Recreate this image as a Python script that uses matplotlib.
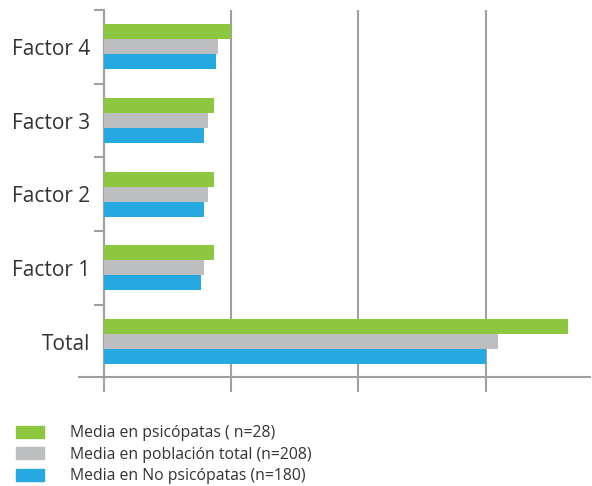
import matplotlib.pyplot as plt
from matplotlib.patches import Patch

# Data
categories = ["Total", "Factor 1", "Factor 2", "Factor 3", "Factor 4"]
psicopatas = [36.45, 8.64, 8.64, 8.64, 10.0]
poblacion_total = [30.95, 7.86, 8.17, 8.17, 9.0]
no_psicopatas = [30.0, 7.62, 7.86, 7.86, 8.8]
labels = ["Media en psicópatas ( n=28)",
          "Media en población total (n=208)",
          "Media en No psicópatas (n=180)"]

green = "#8DC63F"
gray = "#BCBEC0"
blue = "#25A9E0"
axis_gray = "#A0A0A0"

plt.rcParams['font.family'] = ['Open Sans', 'DejaVu Sans']

fig = plt.figure(figsize=(5.92, 4.86), dpi=100)
ax = fig.add_axes([78.5 / 592, 109 / 486, 511.5 / 592, 367 / 486])

h = 0.204
y = list(range(len(categories)))

# Bars: green on top, gray in the middle, blue at the bottom of each group
ax.barh([v + h for v in y], psicopatas, height=h, color=green, zorder=3)
ax.barh(y, poblacion_total, height=h, color=gray, zorder=3)
ax.barh([v - h for v in y], no_psicopatas, height=h, color=blue, zorder=3)

ax.set_xlim(-2, 38.2)
ax.set_ylim(-0.48, 4.5)

# Axis styling
ax.spines['top'].set_visible(False)
ax.spines['right'].set_visible(False)
ax.spines['left'].set_position(('data', 0))
for s in ('left', 'bottom'):
    ax.spines[s].set_color(axis_gray)
    ax.spines[s].set_linewidth(1.5)

ax.set_xticks([0, 10, 20, 30])
ax.set_xticklabels([])
ax.tick_params(axis='x', direction='out', length=11, width=1.5, color=axis_gray)
ax.xaxis.grid(True, color=axis_gray, linewidth=1.5, zorder=0)

ax.set_yticks(y)
ax.set_yticklabels(categories, fontsize=15, color="#333333")
ax.tick_params(axis='y', which='major', length=0, pad=10)
ax.set_yticks([0.5, 1.5, 2.5, 3.5, 4.5], minor=True)
ax.tick_params(axis='y', which='minor', direction='out', length=7.5, width=1.5, color=axis_gray)

# Legend
handles = [Patch(color=green), Patch(color=gray), Patch(color=blue)]
fig.legend(handles, labels, loc='upper left', bbox_to_anchor=(2 / 592, 1 - 411 / 486),
           frameon=False, fontsize=11.3, handlelength=1.8, handleheight=0.82,
           handletextpad=1.65, labelspacing=0.36, labelcolor="#333333")

fig.savefig("out.png", dpi=100)
